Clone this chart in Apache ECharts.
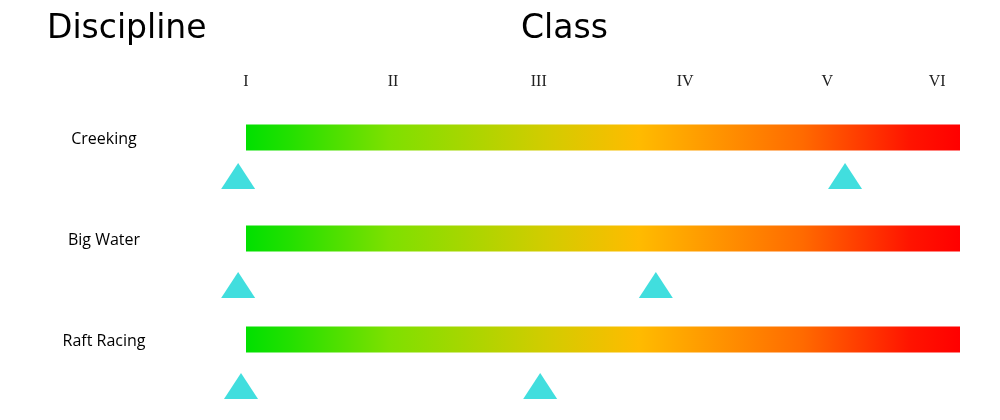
<!DOCTYPE html>
<html><head><meta charset="utf-8">
<script src="https://cdn.jsdelivr.net/npm/echarts@6/dist/echarts.min.js"></script>
<style>html,body{margin:0;background:#fff}#c{width:1000px;height:420px}</style></head>
<body><div id="c"></div>
<script>
const disciplines = ['Creeking', 'Big Water', 'Raft Racing'];
const classLabels = ['I', 'II', 'III', 'IV', 'V', 'VI'];
const classPositions = [0, 20.6, 41.0, 61.5, 81.4, 96.8];
const rangeLow = [-1.1, -1.1, -0.7];
const rangeHigh = [83.9, 57.4, 41.2];
const barStart = 0, barEnd = 100;
const triOffsets = [0.38, 0.46, 0.46];

const chart = echarts.init(document.getElementById('c'));
const grad = new echarts.graphic.LinearGradient(0, 0, 1, 0, [
  {offset: 0, color: '#00e000'}, {offset: 0.06, color: '#22e000'},
  {offset: 0.2, color: '#7ee000'}, {offset: 0.42, color: '#d2cc00'},
  {offset: 0.55, color: '#ffbb00'}, {offset: 0.78, color: '#ff6a00'},
  {offset: 0.93, color: '#ff1400'}, {offset: 1, color: '#ff0000'}]);

chart.setOption({
  animation: false,
  grid: {left: 210.3, width: 749.7, top: 26.4, height: 383.8},
  xAxis: {type: 'value', min: -5, max: 100, show: false},
  yAxis: {type: 'value', min: -1.1, max: 2.7, inverse: true, show: false},
  graphic: [
    {type: 'text', left: 47, top: 13, style: {text: 'Discipline', font: '33px "DejaVu Sans"', fill: '#000'}},
    {type: 'text', left: 521, top: 13, style: {text: 'Class', font: '33px "DejaVu Sans"', fill: '#000'}}
  ],
  series: [
    {type: 'custom', silent: true,
     data: disciplines.map((d, i) => [barStart, barEnd, i, d]),
     renderItem: (params, api) => {
       const a = api.coord([api.value(0), api.value(2)]);
       const b = api.coord([api.value(1), api.value(2)]);
       return {type: 'group', children: [
         {type: 'rect', shape: {x: a[0], y: a[1] - 13, width: b[0] - a[0], height: 26}, style: {fill: grad}},
         {type: 'text', style: {text: disciplines[params.dataIndex], x: 104, y: a[1] + 2, align: 'center', verticalAlign: 'middle', font: '16px "Open Sans"', fill: '#000'}}
       ]};
     }},
    {type: 'custom', silent: true,
     data: classLabels.map((l, i) => [classPositions[i], -0.55]),
     renderItem: (params, api) => {
       const p = api.coord([api.value(0), api.value(1)]);
       return {type: 'text', style: {text: classLabels[params.dataIndex], x: p[0], y: p[1], align: 'center', verticalAlign: 'middle', font: '16px "Liberation Serif"', fill: '#222'}};
     }},
    {type: 'scatter', silent: true, symbol: 'triangle', symbolSize: [34, 26],
     itemStyle: {color: '#12d6d6'},
     data: disciplines.flatMap((d, i) => [[rangeLow[i], i + triOffsets[i]], [rangeHigh[i], i + triOffsets[i]]])}
  ]
});
</script></body></html>
